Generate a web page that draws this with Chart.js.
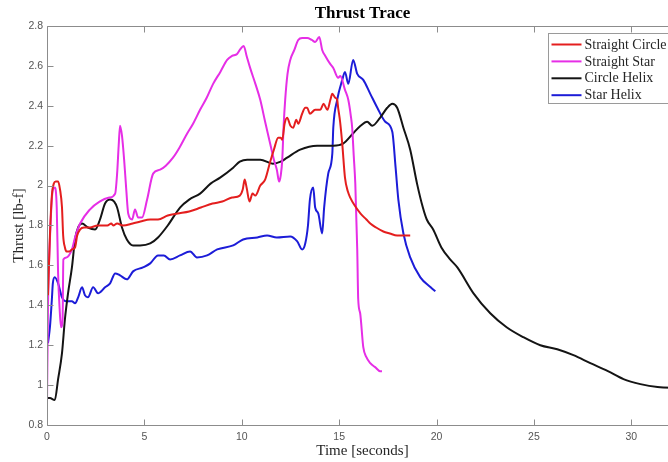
<!DOCTYPE html>
<html>
<head>
<meta charset="utf-8">
<title>Thrust Trace</title>
<script src="https://cdn.jsdelivr.net/npm/chart.js@4.4.1/dist/chart.umd.min.js"></script>
<style>
  html, body { margin: 0; padding: 0; background: #fff; overflow: hidden; }
  #wrap { width: 668px; height: 462px; overflow: hidden; }
  canvas { display: block; }
</style>
</head>
<body>
<div id="wrap"><canvas id="thrustChart" width="690" height="462"></canvas></div>
<script>
// time [s] and thrust [lb-f] for each run
const seriesNames = ["Straight Circle", "Straight Star", "Circle Helix", "Star Helix"];
const seriesColors = ["#e41e1e", "#e62ee6", "#141414", "#1c1cd8"];

const circleT = [0.05, 0.15, 0.25, 0.35, 0.45, 0.57, 0.67, 0.77, 0.83, 0.92, 1.0, 1.15, 1.28, 1.44, 1.55, 1.7, 1.9, 2.2, 2.6, 3.1, 3.3, 3.4, 3.6, 3.9, 4.4, 4.8, 5.3, 5.7, 6.2, 6.7, 7.3, 7.9, 8.5, 9.0, 9.5, 9.9, 10.05, 10.15, 10.25, 10.4, 10.55, 10.7, 10.95, 11.2, 11.46, 11.65, 11.87, 12.0, 12.08, 12.2, 12.33, 12.5, 12.64, 12.8, 12.9, 13.1, 13.26, 13.36, 13.5, 13.77, 14.03, 14.2, 14.4, 14.55, 14.65, 14.8, 14.9, 14.95, 15.05, 15.16, 15.3, 15.45, 15.57, 15.8, 16.1, 16.4, 16.6, 16.9, 17.27, 17.6, 17.98, 18.3, 18.65];
const circleY = [1.45, 1.75, 1.95, 2.01, 2.02, 2.02, 1.98, 1.89, 1.75, 1.69, 1.67, 1.67, 1.68, 1.69, 1.75, 1.78, 1.79, 1.79, 1.80, 1.80, 1.81, 1.80, 1.81, 1.80, 1.81, 1.82, 1.83, 1.83, 1.85, 1.86, 1.87, 1.89, 1.91, 1.92, 1.94, 1.95, 1.98, 2.03, 1.99, 1.92, 1.96, 1.95, 2.00, 2.03, 2.12, 2.18, 2.24, 2.24, 2.23, 2.31, 2.34, 2.30, 2.29, 2.33, 2.31, 2.36, 2.39, 2.39, 2.36, 2.38, 2.38, 2.41, 2.38, 2.43, 2.46, 2.44, 2.43, 2.39, 2.32, 2.21, 2.04, 1.97, 1.94, 1.90, 1.86, 1.83, 1.81, 1.79, 1.77, 1.76, 1.75, 1.75, 1.75];

const starT = [0, 0.05, 0.15, 0.3, 0.4, 0.5, 0.57, 0.65, 0.72, 0.8, 0.84, 1.0, 1.28, 1.44, 1.7, 2.2, 2.7, 3.2, 3.5, 3.6, 3.68, 3.75, 3.85, 3.96, 4.07, 4.17, 4.37, 4.52, 4.68, 4.88, 5.14, 5.45, 5.81, 6.1, 6.47, 6.8, 7.19, 7.5, 7.86, 8.2, 8.53, 8.9, 9.25, 9.5, 9.76, 9.9, 10.1, 10.25, 10.43, 10.7, 10.95, 11.2, 11.46, 11.65, 11.8, 11.92, 12.0, 12.08, 12.15, 12.23, 12.35, 12.49, 12.7, 12.9, 13.1, 13.36, 13.6, 13.77, 13.98, 14.13, 14.29, 14.54, 14.7, 14.95, 15.06, 15.3, 15.47, 15.6, 15.67, 15.75, 15.83, 15.93, 15.98, 16.08, 16.24, 16.4, 16.6, 16.85, 17.1, 17.2];
const starY = [0.91, 1.39, 1.73, 1.98, 1.99, 1.89, 1.56, 1.38, 1.29, 1.33, 1.63, 1.64, 1.68, 1.74, 1.81, 1.88, 1.92, 1.94, 1.96, 2.06, 2.20, 2.30, 2.25, 2.13, 1.98, 1.86, 1.83, 1.88, 1.84, 1.84, 1.93, 2.06, 2.08, 2.10, 2.14, 2.19, 2.26, 2.31, 2.38, 2.44, 2.51, 2.57, 2.63, 2.65, 2.66, 2.68, 2.70, 2.65, 2.59, 2.51, 2.43, 2.32, 2.21, 2.13, 2.08, 2.02, 2.05, 2.13, 2.30, 2.43, 2.56, 2.63, 2.68, 2.73, 2.74, 2.74, 2.73, 2.72, 2.745, 2.68, 2.65, 2.61, 2.59, 2.54, 2.55, 2.48, 2.43, 2.35, 2.29, 2.15, 2.01, 1.68, 1.43, 1.36, 1.19, 1.14, 1.11, 1.09, 1.07, 1.07];

const helixT = [0, 0.15, 0.4, 0.57, 0.77, 0.92, 1.08, 1.28, 1.44, 1.6, 1.8, 2.1, 2.47, 2.72, 2.98, 3.24, 3.45, 3.6, 3.85, 4.1, 4.42, 4.78, 5.3, 5.7, 6.2, 6.83, 7.3, 7.86, 8.4, 8.89, 9.56, 9.9, 10.28, 10.95, 11.6, 12.0, 12.33, 13.0, 13.87, 14.7, 15.2, 15.7, 16.1, 16.44, 16.7, 17.1, 17.47, 17.73, 17.98, 18.3, 18.65, 19.0, 19.3, 19.5, 19.83, 20.25, 20.7, 21.07, 21.9, 22.76, 23.6, 24.46, 25.33, 26.2, 27.03, 27.9, 28.8, 29.6, 30.47, 31.35, 32.4];
const helixY = [0.935, 0.935, 0.925, 1.03, 1.16, 1.33, 1.46, 1.59, 1.73, 1.79, 1.81, 1.79, 1.78, 1.83, 1.91, 1.93, 1.92, 1.89, 1.79, 1.73, 1.70, 1.70, 1.71, 1.74, 1.80, 1.89, 1.93, 1.96, 2.01, 2.04, 2.09, 2.12, 2.13, 2.13, 2.11, 2.12, 2.14, 2.18, 2.20, 2.20, 2.21, 2.26, 2.30, 2.32, 2.30, 2.34, 2.39, 2.41, 2.39, 2.29, 2.18, 2.01, 1.89, 1.83, 1.78, 1.69, 1.63, 1.59, 1.46, 1.36, 1.29, 1.24, 1.20, 1.18, 1.15, 1.11, 1.07, 1.03, 1.005, 0.99, 0.985];

const starHelixT = [0.05, 0.15, 0.25, 0.3, 0.4, 0.57, 0.77, 1.0, 1.28, 1.44, 1.6, 1.8, 1.95, 2.1, 2.37, 2.62, 2.98, 3.24, 3.5, 3.75, 4.1, 4.42, 4.93, 5.3, 5.7, 6.0, 6.32, 6.83, 7.35, 7.7, 8.22, 8.74, 9.56, 10.07, 10.8, 11.3, 11.8, 12.49, 12.85, 13.1, 13.26, 13.4, 13.5, 13.67, 13.77, 13.93, 14.13, 14.23, 14.44, 14.65, 14.7, 14.9, 15.16, 15.3, 15.47, 15.72, 15.93, 16.24, 16.6, 16.96, 17.37, 17.73, 17.9, 18.04, 18.3, 18.65, 19.17, 19.7, 19.94];
const starHelixY = [1.21, 1.29, 1.43, 1.51, 1.54, 1.51, 1.44, 1.42, 1.42, 1.41, 1.44, 1.49, 1.45, 1.44, 1.49, 1.46, 1.49, 1.51, 1.56, 1.55, 1.53, 1.57, 1.59, 1.61, 1.65, 1.65, 1.63, 1.65, 1.67, 1.64, 1.65, 1.68, 1.70, 1.73, 1.74, 1.75, 1.74, 1.745, 1.72, 1.68, 1.71, 1.80, 1.93, 1.99, 1.89, 1.86, 1.76, 1.89, 2.06, 2.16, 2.29, 2.43, 2.53, 2.57, 2.51, 2.63, 2.56, 2.53, 2.46, 2.39, 2.32, 2.27, 2.09, 1.93, 1.76, 1.64, 1.54, 1.49, 1.47];

const xTicks = [0, 5, 10, 15, 20, 25, 30];
const yTicks = [0.8, 1, 1.2, 1.4, 1.6, 1.8, 2, 2.2, 2.4, 2.6, 2.8];

const allT = [circleT, starT, helixT, starHelixT];
const allY = [circleY, starY, helixY, starHelixY];

const serif = "'Liberation Serif', 'Times New Roman', serif";
const sans = "'Liberation Sans', Arial, sans-serif";

// matlab style box with inward ticks
const axesFrame = {
  id: "axesFrame",
  afterDatasetsDraw(chart) {
    const ctx = chart.ctx;
    const a = chart.chartArea;
    const xs = chart.scales.x, ys = chart.scales.y;
    const L = Math.round(a.left) + 0.5, R = Math.round(a.right) + 0.5;
    const T = Math.round(a.top) + 0.5, B = Math.round(a.bottom) + 0.5;
    ctx.save();
    ctx.strokeStyle = "#8c8c8c";
    ctx.lineWidth = 1;
    ctx.beginPath();
    ctx.moveTo(L, T); ctx.lineTo(R, T); ctx.lineTo(R, B); ctx.lineTo(L, B); ctx.closePath();
    xTicks.forEach(v => {
      const px = Math.round(xs.getPixelForValue(v)) + 0.5;
      ctx.moveTo(px, B); ctx.lineTo(px, B - 6);
      ctx.moveTo(px, T); ctx.lineTo(px, T + 6);
    });
    yTicks.forEach(v => {
      const py = Math.round(ys.getPixelForValue(v)) + 0.5;
      ctx.moveTo(L, py); ctx.lineTo(L + 6, py);
    });
    ctx.stroke();
    ctx.restore();
  }
};

// boxed legend in the top right corner of the axes
const boxLegend = {
  id: "boxLegend",
  afterDraw(chart) {
    const ctx = chart.ctx;
    const a = chart.chartArea;
    const left = Math.round(a.right - 130) + 0.5, top = Math.round(a.top + 7) + 0.5;
    const rowH = 16.9;
    ctx.save();
    ctx.fillStyle = "#fff";
    ctx.strokeStyle = "#9a9a9a";
    ctx.lineWidth = 1;
    ctx.fillRect(left, top, 126, 70);
    ctx.strokeRect(left, top, 126, 70);
    ctx.font = "14px " + serif;
    ctx.textBaseline = "middle";
    chart.data.datasets.forEach((ds, i) => {
      const y = top + 11 + i * rowH;
      ctx.strokeStyle = ds.borderColor;
      ctx.lineWidth = 2;
      ctx.beginPath();
      ctx.moveTo(left + 3, y); ctx.lineTo(left + 33, y);
      ctx.stroke();
      ctx.fillStyle = "#262626";
      ctx.fillText(ds.label, left + 36, y + 0.5);
    });
    ctx.restore();
  }
};

const datasets = seriesNames.map((name, i) => ({
  label: name,
  data: allT[i].map((t, k) => ({ x: t, y: allY[i][k] })),
  borderColor: seriesColors[i],
  borderWidth: 2,
  pointRadius: 0,
  fill: false,
  cubicInterpolationMode: "monotone"
}));

new Chart(document.getElementById("thrustChart"), {
  type: "line",
  data: { datasets: datasets },
  options: {
    responsive: false,
    animation: false,
    devicePixelRatio: 1,
    layout: { padding: { left: 0, right: 12, top: 0, bottom: 0 } },
    plugins: {
      legend: { display: false },
      tooltip: { enabled: false },
      title: {
        display: true,
        text: "Thrust Trace",
        fullSize: false,
        color: "#000",
        font: { family: serif, size: 17, weight: "bold", lineHeight: 1.2 },
        padding: { top: 3, bottom: 2.6 }
      }
    },
    scales: {
      x: {
        type: "linear",
        min: 0,
        max: 32.4,
        grid: { display: false, drawTicks: false },
        border: { display: false },
        afterBuildTicks: s => { s.ticks = xTicks.map(v => ({ value: v })); },
        afterFit: s => { s.height = 37; },
        ticks: {
          color: "#555",
          font: { family: sans, size: 10.5 },
          padding: 6,
          maxRotation: 0,
          callback: v => String(v)
        },
        title: {
          display: true,
          text: "Time [seconds]",
          color: "#262626",
          font: { family: serif, size: 15 },
          padding: { top: 0, bottom: 2 }
        }
      },
      y: {
        type: "linear",
        min: 0.8,
        max: 2.8,
        grid: { display: false, drawTicks: false },
        border: { display: false },
        afterBuildTicks: s => { s.ticks = yTicks.map(v => ({ value: v })); },
        afterFit: s => { s.width = 47; },
        ticks: {
          color: "#555",
          font: { family: sans, size: 10.5 },
          padding: 4,
          callback: v => String(Math.round(v * 10) / 10)
        },
        title: {
          display: true,
          text: "Thrust [lb-f]",
          color: "#262626",
          font: { family: serif, size: 15 },
          padding: { top: 10, bottom: 0 }
        }
      }
    }
  },
  plugins: [axesFrame, boxLegend]
});
</script>
</body>
</html>
